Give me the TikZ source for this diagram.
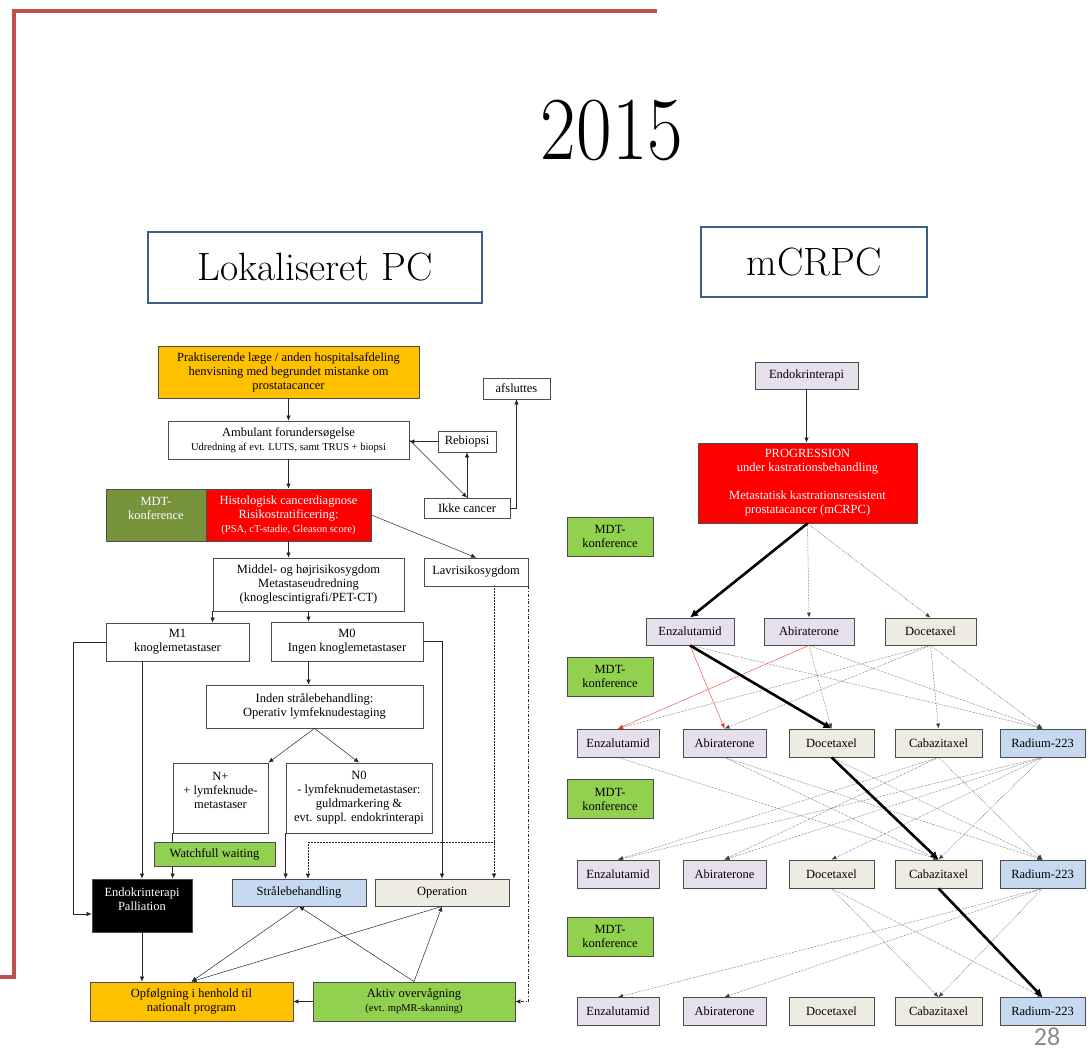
\documentclass[tikz,border=0pt]{standalone}
\usepackage{fontspec}
\usetikzlibrary{arrows.meta,calc}
\newfontfamily\tnr{Liberation Serif}
\newfontfamily\sidetal{Carlito}

\definecolor{orangeboks}{HTML}{FFC000}
\definecolor{olivenboks}{HTML}{77933C}
\definecolor{groenboks}{HTML}{92D050}
\definecolor{blaaboks}{HTML}{C6D9F1}
\definecolor{beigeboks}{HTML}{EEECE1}
\definecolor{lillaboks}{HTML}{E5E0EC}
\definecolor{rammefarve}{HTML}{C0504D}
\definecolor{titelramme}{HTML}{3B5E8C}

\def\BOKSFONT{\tnr\fontsize{12.5}{14}\selectfont}
\def\LILLEFONT{\fontsize{10.5}{12}\selectfont}

\tikzset{
	boks/.style={draw=black!70, line width=0.8pt, inner sep=1pt, align=center, font=\BOKSFONT},
	titelboks/.style={draw=titelramme, line width=1.2pt, inner sep=0pt, font=\fontsize{39.5}{40}\selectfont},
	pil/.style={-{Latex[length=5pt,width=4.5pt]}, line width=0.5pt, black!85},
	valg/.style={-{Latex[length=5pt,width=4pt]}, densely dotted, line width=0.5pt, black!75},
	roedvalg/.style={-{Latex[length=5pt,width=4pt]}, line width=0.4pt, red!80},
	hovedvej/.style={-{Latex[length=8pt,width=8pt]}, line width=2.6pt, black}
}

\begin{document}
\begin{tikzpicture}[x=1pt,y=-1pt]

	\useasboundingbox (0,0) rectangle (1091,1051);
	\draw[rammefarve, line width=4.5pt] (0,977) -- (14,977) -- (14,11) -- (657,11);

	\node[font=\fontsize{90}{90}\selectfont] (aar) at (612,130) {\scalebox{0.86}[1]{2015}};
	\node[titelboks, minimum width=334, minimum height=71] (lokaliseret) at (315,267.5) {Lokaliseret PC};
	\node[titelboks, minimum width=226, minimum height=70] (mcrpc) at (814,262) {mCRPC};

	\node[boks, fill=orangeboks, minimum width=261, minimum height=52] (praktiserende) at (288.5,372) {Praktiserende læge / anden hospitalsafdeling\\henvisning med begrundet mistanke om\\prostatacancer};
	\node[boks, minimum width=241, minimum height=38] (ambulant) at (288.5,440) {Ambulant forundersøgelse\\\LILLEFONT Udredning af evt. LUTS, samt TRUS + biopsi};
	\node[boks, minimum width=67, minimum height=21] (afsluttes) at (516.5,388.5) {afsluttes};
	\node[boks, minimum width=58, minimum height=21] (rebiopsi) at (467,441.5) {Rebiopsi};
	\node[boks, minimum width=86, minimum height=20] (ikkecancer) at (467,508) {Ikke cancer};
	\node[boks, fill=olivenboks, text=white, minimum width=100, minimum height=52] (mdtvenstre) at (156,515) {MDT-\\konference\\[-1pt]};
	\node[boks, fill=red, text=white, minimum width=165, minimum height=52] (histologisk) at (288.5,515) {Histologisk cancerdiagnose\\Risikostratificering:\\\LILLEFONT (PSA, cT-stadie, Gleason score)};
	\node[boks, minimum width=191, minimum height=53] (middel) at (308.5,584.5) {Middel- og højrisikosygdom\\Metastaseudredning\\(knoglescintigrafi/PET-CT)};
	\node[boks, minimum width=104, minimum height=28] (lavrisiko) at (476,572) {Lavrisikosygdom};
	\node[boks, minimum width=143, minimum height=38] (m1) at (177.5,642) {M1\\knoglemetastaser};
	\node[boks, minimum width=152, minimum height=39] (m0) at (347,641.5) {M0\\Ingen knoglemetastaser};
	\node[boks, minimum width=217, minimum height=43] (inden) at (314.5,706.5) {Inden strålebehandling:\\Operativ lymfeknudestaging};
	\node[boks, minimum width=95, minimum height=70] (nplus) at (220.5,798) {N+\\+ lymfeknude-\\metastaser\\[2pt]};
	\node[boks, minimum width=146, minimum height=70] (nnul) at (359,798) {N0\\- lymfeknudemetastaser:\\guldmarkering \&\\evt. suppl. endokrinterapi};
	\node[boks, fill=groenboks, minimum width=121, minimum height=24] (watchfull) at (214.5,854) {Watchfull waiting};
	\node[boks, fill=black, text=white, minimum width=100, minimum height=53] (endokrin) at (142,905.5) {Endokrinterapi\\Palliation\\[-1pt]};
	\node[boks, fill=blaaboks, minimum width=134, minimum height=27] (straale) at (299,892.5) {Strålebehandling};
	\node[boks, fill=beigeboks, minimum width=134, minimum height=27] (operation) at (442,892.5) {Operation};
	\node[boks, fill=orangeboks, minimum width=203, minimum height=39] (opfoelgning) at (191.5,1001.5) {Opfølgning i henhold til\\nationalt program};
	\node[boks, fill=groenboks, minimum width=202, minimum height=39] (aktiv) at (414,1001.5) {Aktiv overvågning\\\LILLEFONT (evt. mpMR-skanning)};
	\coordinate (lavgren) at (494,842);

	\draw[pil] (praktiserende) -- (ambulant);
	\draw[pil] (ambulant) -- (histologisk);
	\draw[pil] (rebiopsi.west) -- (rebiopsi.west -| ambulant.east);
	\draw[pil] (ambulant.east) -- (ikkecancer.north);
	\draw[pil] (ikkecancer.north) -- (rebiopsi.south);
	\draw[pil] (ikkecancer.east) -| (afsluttes.south);
	\draw[pil] (histologisk.east) -- (lavrisiko.north);
	\draw[pil] (histologisk.south) -- (histologisk.south |- middel.north);
	\draw[pil] (middel.south west) -- (middel.south west |- m1.north);
	\draw[pil] (middel.south) -- (middel.south |- m0.north);
	\draw[pil] (m1.west) -- ++(-32,0) |- ([yshift=-8.5pt]endokrin.west);
	\draw[pil] (m1.south -| endokrin.north) -- (endokrin.north);
	\draw[pil] (m0.south -| middel.south) -- (middel.south |- inden.north);
	\draw[pil] (m0.east) -| (operation.north);
	\draw[pil] (inden.south) -- (nplus.north east);
	\draw[pil] (inden.south) -- (nnul.north);
	\draw[line width=0.5pt, black!85] (nplus.south west) -- (nplus.south west |- watchfull.north);
	\draw[pil] (nplus.south west |- watchfull.south) -- (nplus.south west |- endokrin.north);
	\draw[pil] (nnul.south west) -- (nnul.south west |- straale.north);
	\draw[pil, densely dotted] ([xshift=18pt]lavrisiko.south) -- (lavgren) -- (lavgren |- operation.north);
	\draw[pil, densely dotted] (lavgren) -| ([xshift=9pt]straale.north);
	\draw[pil, dash dot] (lavrisiko.south east) |- (aktiv.east);
	\draw[pil] (endokrin.south) -- (endokrin.south |- opfoelgning.north);
	\draw[pil] (aktiv.west) -- (opfoelgning.east);
	\draw[pil] (aktiv.north) -- (straale.south);
	\draw[pil] (aktiv.north) -- (operation.south);
	\draw[pil] (straale.south) -- (opfoelgning.north);
	\draw[pil] (operation.south) -- (opfoelgning.north);

	\node[boks, fill=lillaboks, minimum width=103, minimum height=27] (endokrinR) at (806.5,375.5) {Endokrinterapi};
	\node[boks, fill=red, text=white, minimum width=219, minimum height=80] (progression) at (807.5,483) {PROGRESSION\\under kastrationsbehandling\\[14pt]Metastatisk kastrationsresistent\\prostatacancer (mCRPC)};
	\foreach \my [count=\i] in {536.5,676.5,799,936.5}
		\node[boks, fill=groenboks, minimum width=86, minimum height=39] (mdt\i) at (610,\my) {MDT-\\konference};
	\node[boks, fill=lillaboks, minimum width=88, minimum height=27] (enz1) at (690,631.5) {Enzalutamid};
	\node[boks, fill=lillaboks, minimum width=90, minimum height=27] (abi1) at (809,631.5) {Abiraterone};
	\node[boks, fill=beigeboks, minimum width=91, minimum height=27] (doce1) at (930.5,631.5) {Docetaxel};
	\foreach \rk/\ry in {2/743,3/874,4/1011.5}{
		\node[boks, fill=lillaboks, minimum width=82, minimum height=28] (enz\rk) at (618,\ry) {Enzalutamid};
		\node[boks, fill=lillaboks, minimum width=83, minimum height=28] (abi\rk) at (724.5,\ry) {Abiraterone};
		\node[boks, fill=beigeboks, minimum width=85, minimum height=28] (doce\rk) at (831.5,\ry) {Docetaxel};
		\node[boks, fill=beigeboks, minimum width=87, minimum height=28] (caba\rk) at (938.5,\ry) {Cabazitaxel};
		\node[boks, fill=blaaboks, minimum width=85, minimum height=28] (rad\rk) at (1042.5,\ry) {Radium-223};
	}

	\draw[pil] (endokrinR.south) -- (endokrinR.south |- progression.north);
	\foreach \fra/\til in {progression/abi1, progression/doce1, enz1/rad2, abi1/doce2, abi1/rad2, doce1/enz2, doce1/abi2, doce1/caba2, doce1/rad2, enz2/caba3, abi2/caba3, abi2/rad3, doce2/rad3, caba2/enz3, caba2/abi3, caba2/rad3, rad2/enz3, rad2/abi3, rad2/doce3, rad2/caba3, doce3/caba4, doce3/rad4, rad3/enz4, rad3/abi4, rad3/caba4}
		\draw[valg] (\fra.south) -- (\til.north);
	\foreach \fra/\til in {enz1/abi2, abi1/enz2}
		\draw[roedvalg] (\fra.south) -- (\til.north);
	\foreach \fra/\til in {progression/enz1, enz1/doce2, doce2/caba3, caba3/rad4}
		\draw[hovedvej] (\fra.south) -- (\til.north);

	\node[inner sep=0pt, font=\sidetal\fontsize{26}{26}\selectfont, text=black!45] (side) at (1047,1037) {28};

\end{tikzpicture}
\end{document}
